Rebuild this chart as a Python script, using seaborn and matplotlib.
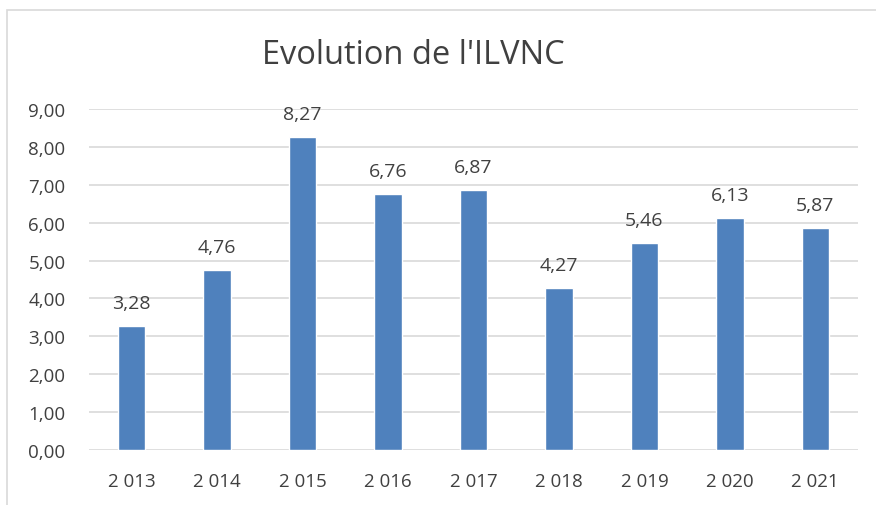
import matplotlib
matplotlib.use('Agg')
import pandas as pd
import seaborn as sns
from matplotlib import pyplot as plt
from matplotlib.patches import Rectangle

# Data
years = ['2 013', '2 014', '2 015', '2 016', '2 017', '2 018', '2 019', '2 020', '2 021']
ilvnc = [3.28, 4.76, 8.27, 6.76, 6.87, 4.27, 5.46, 6.13, 5.87]
y_ticks = [0, 1, 2, 3, 4, 5, 6, 7, 8, 9]

df = pd.DataFrame({'annee': years, 'ilvnc': ilvnc})

sns.set_style('white')
plt.rcParams['font.family'] = ['Open Sans', 'DejaVu Sans']
text_col = '#404040'

fig = plt.figure(figsize=(8.76, 5.06), dpi=100)
ax = fig.add_axes([89 / 876, 1 - 451 / 506, (858 - 89) / 876, (451 - 110) / 506])

sns.barplot(data=df, x='annee', y='ilvnc', color='#4F81BD', saturation=1, width=0.32, ax=ax, zorder=3)

# Data labels with French decimal comma
for p, v in zip(ax.patches, ilvnc):
    ax.annotate(f'{v:.2f}'.replace('.', ','), (p.get_x() + p.get_width() / 2, v),
                xytext=(0, 10), textcoords='offset points', ha='center', va='bottom',
                fontsize=14, color=text_col)

ax.set_ylim(0, 9)
ax.set_yticks(y_ticks)
ax.set_yticklabels([f'{t:.2f}'.replace('.', ',') for t in y_ticks])
ax.set_xlim(-0.5, len(years) - 0.5)
ax.grid(axis='y', color='#D9D9D9', linewidth=1.2, zorder=0)
ax.set_axisbelow(True)
for s in ax.spines.values():
    s.set_visible(False)
ax.tick_params(axis='both', length=0, labelsize=13.5, labelcolor=text_col)
ax.tick_params(axis='y', pad=17)
ax.tick_params(axis='x', pad=16)
ax.set_xlabel('')
ax.set_ylabel('')

fig.text(413 / 876, 1 - 56 / 506, "Evolution de l'ILVNC", ha='center', va='center',
         fontsize=23.5, color=text_col)

# Chart area border (clipped on right and bottom)
fig.patches.append(Rectangle((7 / 876, -0.1), 1.2, 1.1 - 11 / 506, transform=fig.transFigure,
                             fill=False, edgecolor='#D9D9D9', linewidth=1.2))

plt.savefig('out.png', dpi=100)
plt.close()
